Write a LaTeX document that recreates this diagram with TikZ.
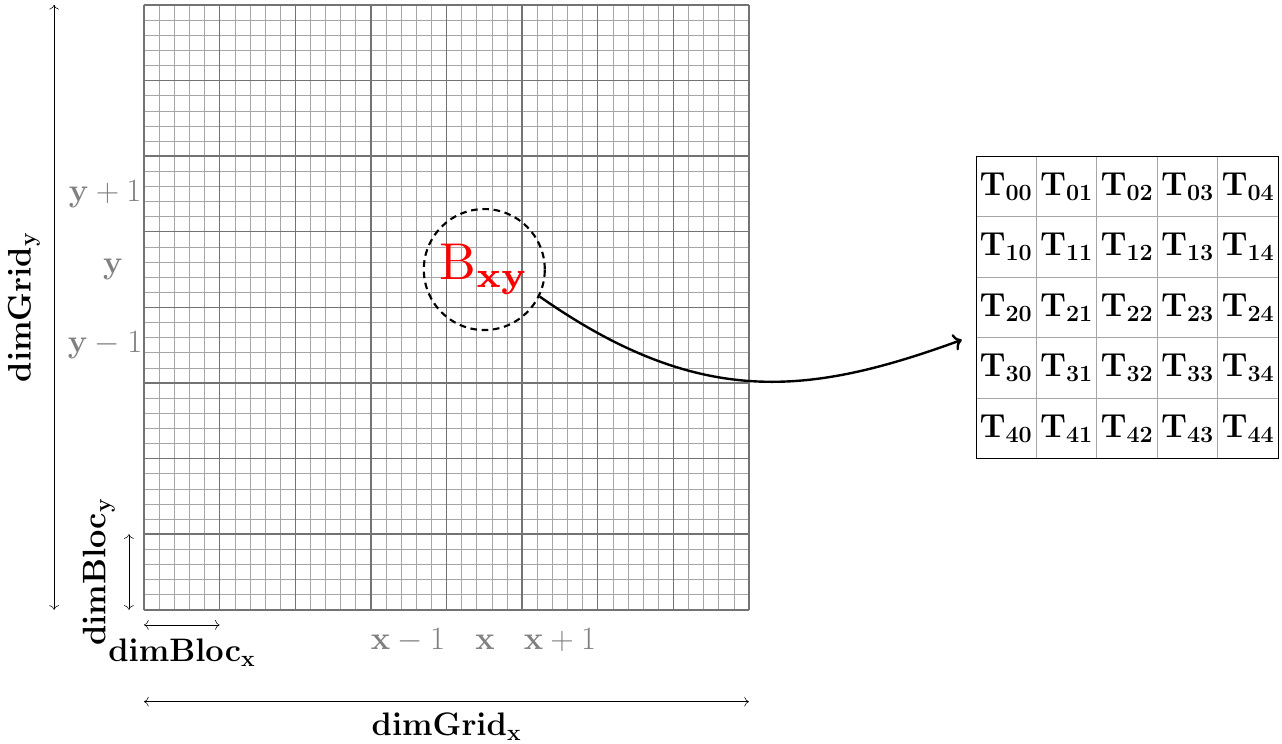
\RequirePackage{fix-cm}
\documentclass[tikz,border=0pt]{standalone}
\usetikzlibrary{positioning, calc, arrows.meta}

\begin{document}
\begin{tikzpicture}[
        fine/.style={draw=gray!70, line width=0.4pt},
        coarse/.style={draw=black!55, line width=1.1pt},
        dim/.style={{To[scale=1.4]}-{To[scale=1.4]}, thin},
        dimlabel/.style={inner sep=10.5pt, font=\fontsize{24.5}{29}\selectfont},
        idx/.style={text=gray, font=\fontsize{24.5}{29}\selectfont},
        bloc/.style={circle, draw=black, dash pattern=on 5pt off 3.5pt, line width=1.6pt, minimum size=3.2cm, inner sep=0pt, text=red},
        tcell/.style={rectangle, draw=gray!70, minimum size=1.6cm, inner sep=0pt, outer sep=0pt, font=\fontsize{25}{30}\selectfont},
        line/.style={draw, line width=1.8pt, -{To[scale=1.1]}}
    ]
        \useasboundingbox (-3.81,-3.54) rectangle (30.10,16.13);

        % grid of threads and blocks
        \draw[fine, step=0.4] (0,0) grid (16,16);
        \draw[coarse, step=2] (0,0) grid (16,16);

        % dimensions
        \coordinate (gxa) at (0,-2.43);
        \coordinate (gxb) at (16,-2.43);
        \coordinate (gya) at (-2.38,0);
        \coordinate (gyb) at (-2.38,16);
        \coordinate (bxa) at (0,-0.4);
        \coordinate (bxb) at (2,-0.4);
        \coordinate (bya) at (-0.4,0);
        \coordinate (byb) at (-0.4,2);
        \draw[dim] (gxa) -- node[below, dimlabel, inner sep=8.5pt] (lgx) {$\mathbf{dimGrid_x}$} (gxb);
        \draw[dim] (gya) -- node[above, sloped, dimlabel] (lgy) {$\mathbf{dimGrid_y}$} (gyb);
        \draw[dim] (bxa) -- node[below, dimlabel] (lbx) {$\mathbf{dimBloc_x}$} (bxb);
        \draw[dim] (bya) -- node[above, sloped, dimlabel] (lby) {$\mathbf{dimBloc_y}$} (byb);

        % block indices
        \node[idx, anchor=base] (xm) at (6.98,-1.06) {$\mathbf{x}-1$};
        \node[idx, anchor=base] (x0) at (9.02,-1.06) {$\mathbf{x}$};
        \node[idx, anchor=base] (xp) at (11.0,-1.06) {$\mathbf{x}+1$};
        \node[idx] (yp) at (-1.03,11) {$\mathbf{y}+1$};
        \node[idx] (y0) at (-0.82,9) {$\mathbf{y}$};
        \node[idx] (ym) at (-1.03,7) {$\mathbf{y}-1$};

        \node[bloc] (B) at (9,9) {\scalebox{3.9}{$\mathrm{B}_{\mathbf{xy}}$}};

        % threads of one block
        \foreach \r in {0,...,4}
            \foreach \c in {0,...,4}
                \node[tcell] (t\r\c) at ({22.8+1.6*\c},{11.2-1.6*\r}) {$\mathbf{T_{\r\c}}$};
        \draw (t00.north west) rectangle (t44.south east);

        \coordinate (tin) at (21.63,7.14);
        \draw[line] (B.-26) to[out=-35, in=200, out looseness=1.18, in looseness=0.98] (tin);

    \end{tikzpicture}
\end{document}
